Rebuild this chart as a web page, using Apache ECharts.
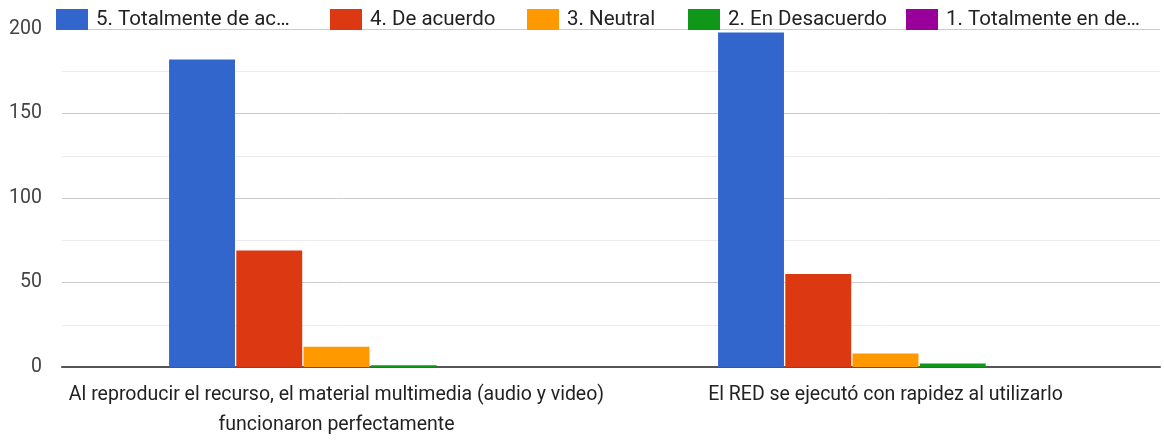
<!DOCTYPE html>
<html>
<head>
<meta charset="utf-8">
<script src="https://cdn.jsdelivr.net/npm/echarts@6/dist/echarts.min.js"></script>
<style>
  html, body { margin: 0; padding: 0; background: #fff; }
  #chart { width: 1164px; height: 441px; }
</style>
</head>
<body>
<div id="chart"></div>
<script>
  // categorias del eje x
  const categories = [
    'Al reproducir el recurso, el material multimedia (audio y video)\nfuncionaron perfectamente',
    'El RED se ejecutó con rapidez al utilizarlo'
  ]
  const seriesNames = ['5. Totalmente de acuerdo', '4. De acuerdo', '3. Neutral', '2. En Desacuerdo', '1. Totalmente en desacuerdo']
  const legendLabels = ['5. Totalmente de ac…', '4. De acuerdo', '3. Neutral', '2. En Desacuerdo', '1. Totalmente en de…']
  const colors = ['#3366cc', '#dc3912', '#ff9900', '#109618', '#990099']

  const totalAcuerdo = [182, 198]
  const deAcuerdo = [69, 55]
  const neutral = [12, 8]
  const desacuerdo = [1, 2]
  const totalDesacuerdo = [0, 0]
  const seriesValues = [totalAcuerdo, deAcuerdo, neutral, desacuerdo, totalDesacuerdo]

  const legendLeft = [56, 330, 527, 688, 906]

  const ec = echarts.init(document.getElementById('chart'))
  ec.setOption({
    animation: false,
    textStyle: { fontFamily: 'Roboto' },
    color: colors,
    legend: seriesNames.map((name, i) => ({
      data: [name],
      left: legendLeft[i],
      top: 9,
      padding: 0,
      itemWidth: 32,
      itemHeight: 21,
      icon: 'rect',
      selectedMode: false,
      formatter: () => legendLabels[i],
      textStyle: { fontSize: 20.5, color: '#222', padding: [0, 0, 0, 3] }
    })),
    grid: { left: 62, right: 4, top: 29, bottom: 74 },
    xAxis: {
      type: 'category',
      data: categories,
      axisTick: { show: false },
      axisLine: { lineStyle: { color: '#555', width: 2 } },
      axisLabel: { fontSize: 19.5, color: '#222', lineHeight: 30, margin: 13, interval: 0 }
    },
    yAxis: {
      type: 'value',
      min: 0,
      max: 200,
      interval: 25,
      axisLine: { show: false },
      axisTick: { show: false },
      axisLabel: {
        fontSize: 19.5,
        color: '#444',
        margin: 20,
        formatter: v => (v % 50 === 0 ? String(v) : '')
      },
      splitLine: { lineStyle: { color: ['#cccccc', '#ebebeb'], width: 1 } }
    },
    series: seriesNames.map((name, i) => ({
      name: name,
      type: 'bar',
      data: seriesValues[i],
      barGap: '2%',
      barCategoryGap: '39%',
      itemStyle: { color: colors[i] }
    }))
  })
  window.addEventListener('resize', ec.resize)
</script>
</body>
</html>
